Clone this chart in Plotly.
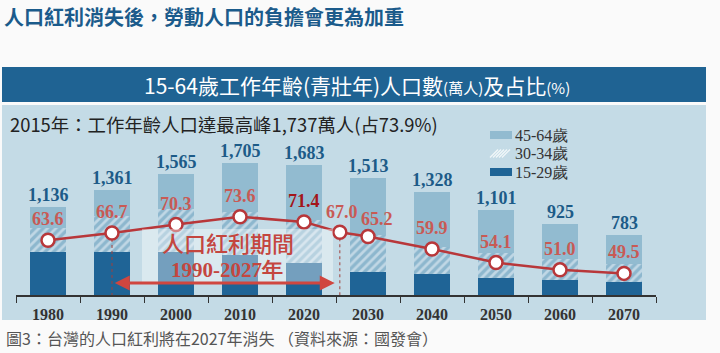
import plotly.graph_objects as go

# ---------------- data ----------------
years = [1980, 1990, 2000, 2010, 2020, 2030, 2040, 2050, 2060, 2070]
year_labels = ["1980", "1990", "2000", "2010", "2020", "2030", "2040", "2050", "2060", "2070"]
totals = [1136, 1361, 1565, 1705, 1683, 1513, 1328, 1101, 925, 783]
total_labels = ["1,136", "1,361", "1,565", "1,705", "1,683", "1,513", "1,328", "1,101", "925", "783"]
age_15_29 = [561, 561, 561, 515, 410, 302, 272, 216, 194, 168]
age_30_34 = [303, 462, 556, 558, 561, 475, 354, 324, 268, 233]
age_45_64 = [272, 338, 448, 632, 712, 736, 702, 561, 463, 382]
series_names = ["15-29歲", "30-34歲", "45-64歲"]

share_years = [1980, 1990, 2000, 2010, 2020, 2025.6, 2030, 2040, 2050, 2060, 2070]
share_pct = [63.6, 66.7, 70.3, 73.6, 71.4, 67.0, 65.2, 59.9, 54.1, 51.0, 49.5]
share_labels = ["63.6", "66.7", "70.3", "73.6", "71.4", "67.0", "65.2", "59.9", "54.1", "51.0", "49.5"]

dividend_start, dividend_end = 1990, 2025.6

title_text = "人口紅利消失後，勞動人口的負擔會更為加重"
banner_text = ("15-64歲工作年齡(青壯年)人口數<span style='font-size:15px'>(萬人)</span>"
               "及占比<span style='font-size:15px'>(%)</span>")
subtitle_text = "2015年：工作年齡人口達最高峰1,737萬人(占73.9%)"
period_text1 = "人口紅利期間"
period_text2 = "1990-2027年"
caption_text = "圖3：台灣的人口紅利將在2027年消失 （資料來源：國發會）"

# ---------------- styling ----------------
W, H = 720, 353
L, R, T, B = 16, 656, 107, 295  # plot area in pixels


def px(xp):
    return (xp - L) / (R - L)


def py(yp):
    return (B - yp) / (B - T)


SERIF = "Liberation Serif, Times New Roman, serif"
CJK = "Noto Sans CJK TC, Noto Sans, sans-serif"
DARK = "#1f6496"
LIGHT = "#92bbd0"
HATCH_BG = "#8db7ce"
RED = "#b8373a"
TOT_COLOR = "#1d5b88"
PCT_COLOR = "#c85a55"

fig = go.Figure()

fig.add_trace(go.Bar(x=years, y=age_15_29, name=series_names[0], width=5.6, showlegend=False,
                     marker=dict(color=DARK, line=dict(width=0))))
fig.add_trace(go.Bar(x=years, y=age_30_34, name=series_names[1], width=5.6, showlegend=False,
                     marker=dict(color=HATCH_BG, line=dict(width=0),
                                 pattern=dict(shape="/", fgcolor="#f4f8fb", bgcolor=HATCH_BG,
                                              size=6, solidity=0.45))))
fig.add_trace(go.Bar(x=years, y=age_45_64, name=series_names[2], width=5.6, showlegend=False,
                     marker=dict(color=LIGHT, line=dict(width=0))))

# dotted guides for dividend period
for yr in (dividend_start, dividend_end):
    fig.add_trace(go.Scatter(x=[yr, yr], y=[share_pct[share_years.index(yr)], 40.3],
                             yaxis="y2", mode="lines", showlegend=False, hoverinfo="skip",
                             line=dict(color="#a0403c", width=1, dash="dot")))

fig.add_trace(go.Scatter(x=share_years, y=share_pct, yaxis="y2", mode="lines+markers",
                         showlegend=False,
                         line=dict(color=RED, width=2.5),
                         marker=dict(size=13, color="white", line=dict(color=RED, width=2.5))))

annotations = []
# title / banner / subtitle / caption
annotations.append(dict(text=title_text, x=px(2), y=py(17), xref="paper", yref="paper",
                        xanchor="left", yanchor="middle", showarrow=False,
                        font=dict(family=CJK, size=20, color="#1b5b8b", weight=700)))
annotations.append(dict(text=banner_text, x=px(357), y=py(85), xref="paper", yref="paper",
                        xanchor="center", yanchor="middle", showarrow=False,
                        font=dict(family=CJK, size=21, color="white")))
annotations.append(dict(text=subtitle_text, x=px(8), y=py(124), xref="paper", yref="paper",
                        xanchor="left", yanchor="middle", showarrow=False,
                        font=dict(family=CJK, size=18.4, color="#222222")))
annotations.append(dict(text=caption_text, x=px(4), y=py(338), xref="paper", yref="paper",
                        xanchor="left", yanchor="middle", showarrow=False,
                        font=dict(family=CJK, size=16, color="#555555")))

# totals above bars
for x, t, lab in zip(years, totals, total_labels):
    annotations.append(dict(text=lab, x=x, y=t, xref="x", yref="y", xanchor="center",
                            yanchor="bottom", showarrow=False, yshift=0,
                            font=dict(family=SERIF, size=18, color=TOT_COLOR, weight=700)))

# percentage labels
for x, p, lab in zip(share_years, share_pct, share_labels):
    col = "#a3151b" if lab == "71.4" else PCT_COLOR
    ys, xs = 21, 0
    if lab == "67.0":
        ys, xs = 20, 2
    if lab == "65.2":
        ys, xs = 17, 9
    annotations.append(dict(text=lab, x=x, y=p, xref="x", yref="y2", xanchor="center",
                            yanchor="middle", showarrow=False, yshift=ys, xshift=xs,
                            font=dict(family=SERIF, size=18, color=col, weight=700)))

# dividend period text and arrow
annotations.append(dict(text=period_text1, x=px(228), y=py(242), xref="paper", yref="paper",
                        showarrow=False, xanchor="center", yanchor="middle",
                        font=dict(family=CJK, size=22, color="#c4463f", weight=500)))
annotations.append(dict(text=period_text2, x=px(227), y=py(270), xref="paper", yref="paper",
                        showarrow=False, xanchor="center", yanchor="middle",
                        font=dict(family=SERIF, size=21, color="#c4463f", weight=700)))
annotations.append(dict(x=dividend_end - 0.8, y=155, xref="x", yref="y",
                        ax=dividend_start + 0.2, ay=155, axref="x", ayref="y",
                        text="", showarrow=True, arrowhead=2, arrowsize=1, arrowwidth=3,
                        arrowside="end+start", arrowcolor="#d0463f"))

shapes = [
    # light panel
    dict(type="rect", xref="paper", yref="paper", x0=px(2), x1=px(706), y0=py(320), y1=py(105),
         fillcolor="#c4dbe6", line=dict(width=0), layer="below"),
    # banner
    dict(type="rect", xref="paper", yref="paper", x0=px(2), x1=px(706), y0=py(102), y1=py(67),
         fillcolor="#1f6393", line=dict(width=0), layer="below"),
    # whitish overlay behind dividend text
    dict(type="rect", xref="paper", yref="paper", x0=px(142), x1=px(333), y0=py(283), y1=py(229),
         fillcolor="rgba(255,255,255,0.38)", line=dict(width=0), layer="above"),
]

# ---------------- custom legend (top to bottom: 45-64, 30-34, 15-29) ----------------
leg_rows = [135, 153.5, 172]
leg_x0, leg_x1 = 490, 512
leg_items = [(series_names[2], "solid", LIGHT), (series_names[1], "hatch", HATCH_BG),
             (series_names[0], "solid", DARK)]
for (name, kind, col), yc in zip(leg_items, leg_rows):
    if kind == "solid":
        shapes.append(dict(type="rect", xref="paper", yref="paper",
                           x0=px(leg_x0), x1=px(leg_x1), y0=py(yc + 4), y1=py(yc - 4),
                           fillcolor=col, line=dict(width=0), layer="below"))
    else:
        xs0 = leg_x0
        while xs0 + 8 <= leg_x1:
            shapes.append(dict(type="line", xref="paper", yref="paper",
                               x0=px(xs0), x1=px(xs0 + 8), y0=py(yc + 4), y1=py(yc - 4),
                               line=dict(color="#f2f7fa", width=1.2), layer="below"))
            xs0 += 3
    annotations.append(dict(text=name, x=px(leg_x1 + 1), y=py(yc), xref="paper", yref="paper",
                            xanchor="left", yanchor="middle", showarrow=False,
                            font=dict(family=SERIF, size=16, color="#333333")))

fig.update_layout(
    width=W, height=H, autosize=False,
    margin=dict(l=L, r=W - R, t=T, b=H - B, pad=0),
    paper_bgcolor="#fafafa", plot_bgcolor="rgba(0,0,0,0)",
    barmode="stack",
    xaxis=dict(range=[1975, 2075], tickvals=years, ticktext=year_labels, ticks="",
               showline=True, linecolor="#333333", linewidth=1.5, showgrid=False,
               zeroline=False, ticklabelstandoff=4,
               tickfont=dict(family=SERIF, size=16, color="#333333", weight=700),
               minor=dict(tick0=1975, dtick=10, ticks="outside", ticklen=6,
                          tickcolor="#333333", tickwidth=1.2, showgrid=False)),
    yaxis=dict(range=[0, 2435], visible=False, fixedrange=True),
    yaxis2=dict(range=[40.3, 120.3], overlaying="y", visible=False),
    showlegend=False,
    annotations=annotations,
    shapes=shapes,
)

fig.write_html("out.html")
